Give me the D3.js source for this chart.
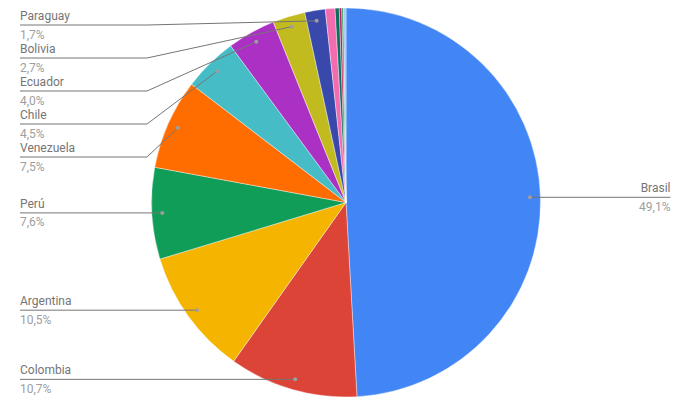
<!DOCTYPE html>
<html><head><meta charset="utf-8">
<script src="https://cdn.jsdelivr.net/npm/d3@7"></script>
<style>body{margin:0;background:#fff}svg{display:block}text{font-family:Roboto,"Noto Sans",sans-serif}</style>
</head><body><svg id="c" width="689" height="411"></svg>
<script>
const categories = ["Brasil","Colombia","Argentina","Perú","Venezuela","Chile","Ecuador","Bolivia","Paraguay","Uruguay","Guyana","Surinam","Guayana Francesa","Otros"];
const values = [49.1,10.7,10.5,7.6,7.5,4.5,4.0,2.7,1.7,0.8,0.35,0.2,0.15,0.2];
const valueLabels = ["49,1%","10,7%","10,5%","7,6%","7,5%","4,5%","4,0%","2,7%","1,7%","0,8%","0,4%","0,2%","0,2%","0,2%"];
const colors = ["#4285F4","#DB4437","#F4B400","#0F9D58","#FF6D00","#46BDC6","#AB30C4","#C2BB20","#3949AB","#F36CB0","#0B6E5F","#C2185B","#2E9E5E","#9FC5F8"];
const labelled = [true,true,true,true,true,true,true,true,true,false,false,false,false,false];

const svg = d3.select("#c");
const cx = 346, cy = 202.5, R = 194.5, rDot = 184;
const data = categories.map((c,i)=>({name:c, value:values[i], label:valueLabels[i], color:colors[i], show:labelled[i]}));
const pie = d3.pie().value(d=>d.value).sort(null);
const arcs = pie(data);
const arc = d3.arc().innerRadius(0).outerRadius(R);
const g = svg.append("g").attr("transform",`translate(${cx},${cy})`);
g.selectAll("path").data(arcs).join("path").attr("d",arc).attr("fill",d=>d.data.color)
  .attr("stroke","#fff").attr("stroke-width",0.4);

const dotArc = d3.arc().innerRadius(rDot).outerRadius(rDot);
const items = arcs.filter(a=>a.data.show).map(a=>{
  const mid=(a.startAngle+a.endAngle)/2;
  const x = cx + rDot*Math.sin(mid), y = cy - rDot*Math.cos(mid);
  return {a, x, y, left: Math.sin(mid)<0};
});
// left labels: stack
const left = items.filter(d=>d.left).sort((p,q)=>p.y-q.y);
let prev = -Infinity;
left.forEach(d=>{ d.ly = Math.max(d.y, 25, prev+33); prev = d.ly; });
items.filter(d=>!d.left).forEach(d=>{ d.ly = d.y; });

const bendX = 147;
const lg = svg.append("g");
items.forEach(d=>{
  if(d.left){
    const pts = Math.abs(d.ly-d.y)<0.5 ? [[20,d.ly],[d.x,d.y]] : [[20,d.ly],[bendX,d.ly],[d.x,d.y]];
    lg.append("path").attr("d",d3.line()(pts)).attr("fill","none").attr("stroke","#757575").attr("stroke-width",1);
    lg.append("text").attr("x",20).attr("y",d.ly-5).attr("font-size",12).attr("fill","#757575").text(d.a.data.name);
    lg.append("text").attr("x",20).attr("y",d.ly+13.5).attr("font-size",12).attr("fill","#9e9e9e").text(d.a.data.label);
  } else {
    lg.append("path").attr("d",d3.line()([[d.x,d.ly],[670.5,d.ly]])).attr("fill","none").attr("stroke","#757575").attr("stroke-width",1);
    lg.append("text").attr("x",670.5).attr("y",d.ly-5).attr("text-anchor","end").attr("font-size",12).attr("fill","#757575").text(d.a.data.name);
    lg.append("text").attr("x",670.5).attr("y",d.ly+13.5).attr("text-anchor","end").attr("font-size",12).attr("fill","#9e9e9e").text(d.a.data.label);
  }
  lg.append("circle").attr("cx",d.x).attr("cy",d.y).attr("r",2).attr("fill","#9e9e9e");
});
</script></body></html>
